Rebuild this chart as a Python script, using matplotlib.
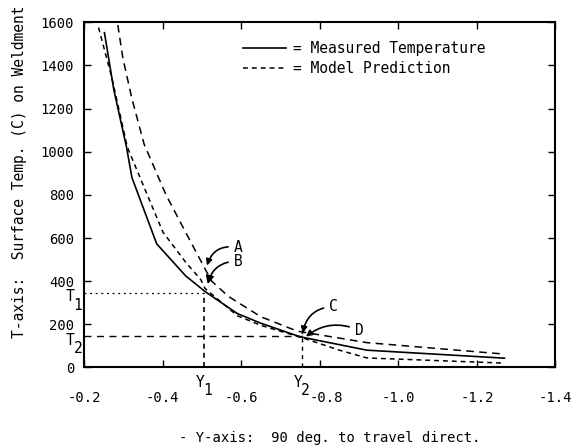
import numpy as np
import matplotlib
matplotlib.use('Agg')
import matplotlib.pyplot as plt
from matplotlib.transforms import blended_transform_factory, ScaledTranslation

plt.rcParams['font.family'] = 'DejaVu Sans Mono'
plt.rcParams['axes.unicode_minus'] = False

# Measured surface temperature along the line 90 deg. to the travel direction
y_meas = [-0.252, -0.276, -0.308, -0.322, -0.385, -0.459, -0.508, -0.59, -0.65, -0.75, -0.92, -1.27]
t_meas = [1552, 1286, 1023, 880, 573, 424, 352, 250, 205, 142, 80, 43]

# Model prediction (inner curve, fine dashes)
y_model_in = [-0.237, -0.271, -0.31, -0.353, -0.401, -0.46, -0.497, -0.508, -0.59, -0.65, -0.755, -0.85, -0.92, -1.269]
t_model_in = [1576, 1342, 1023, 835, 627, 485, 408, 366, 240, 195, 138, 80, 44, 20]

# Model prediction (outer curve, coarse dashes)
y_model_out = [-0.286, -0.299, -0.322, -0.353, -0.409, -0.462, -0.513, -0.525, -0.567, -0.65, -0.743, -0.92, -1.269]
t_model_out = [1588, 1433, 1246, 1035, 799, 615, 440, 400, 330, 235, 168, 115, 62]

x_ticks = [-0.2, -0.4, -0.6, -0.8, -1.0, -1.2, -1.4]
x_tick_labels = ['-0.2', '-0.4', '-0.6', '-0.8', '-1.0', '-1.2', '-1.4']
t_ticks = [0, 200, 400, 600, 800, 1000, 1200, 1400, 1600]

# reference positions Y1/Y2 and temperatures T1/T2
y1, y2 = -0.505, -0.755
t1, t2 = 347, 145


def curve_at(ys, ts, y):
    return np.interp(-y, -np.array(ys), np.array(ts))


fig = plt.figure(figsize=(5.81, 4.47), dpi=100)
ax = fig.add_axes([0.1446, 0.178, 0.8115, 0.772])

ax.plot(y_meas, t_meas, color='black', lw=1.2, label='= Measured Temperature')
ax.plot(y_model_in, t_model_in, color='black', lw=1.1, dashes=(3.2, 2.6),
        label='= Model Prediction')
ax.plot(y_model_out, t_model_out, color='black', lw=1.1, dashes=(5, 3.5))

# guide lines for T1/Y1 and T2/Y2
ax.plot([-0.2, y1], [t1, t1], color='black', lw=0.9, dashes=(1.5, 3))
ax.plot([y1, y1], [0, t1], color='black', lw=1.2, dashes=(3, 2.5))
ax.plot([-0.2, y2], [t2, t2], color='black', lw=1.0, dashes=(5, 4))
ax.plot([y2, y2], [0, 195], color='black', lw=1.0, dashes=(3, 3))

ax.set_xlim(-0.2, -1.4)
ax.set_ylim(0, 1600)
ax.set_xticks(x_ticks)
ax.set_xticklabels(x_tick_labels)
ax.set_yticks(t_ticks)
ax.tick_params(direction='in', length=5, width=1, top=True, right=True, labelsize=10)
ax.tick_params(axis='x', pad=17)
ax.tick_params(axis='y', pad=7)
for s in ax.spines.values():
    s.set_linewidth(1.5)

# -0.8 sits a little to the right to clear the Y2 mark
lbl = ax.get_xticklabels()[3]
lbl.set_transform(lbl.get_transform() + ScaledTranslation(5 / 72, 0, fig.dpi_scale_trans))

leg = ax.legend(loc='upper left', bbox_to_anchor=(0.338, 0.945), frameon=False,
                handlelength=2.9, handletextpad=0.5, labelspacing=0.35,
                borderpad=0, borderaxespad=0, fontsize=10.5)

# letter callouts with curved arrows
arrow = dict(arrowstyle='-|>', color='black', lw=1.2, mutation_scale=9,
             shrinkA=2, shrinkB=0)
tip_a = curve_at(y_model_out, t_model_out, y1)
tip_b = curve_at(y_meas, t_meas, y1)
tip_c = curve_at(y_model_out, t_model_out, y2)
tip_d = curve_at(y_meas, t_meas, y2)
ax.annotate('A', xy=(y1 - 0.008, tip_a + 5), xytext=(-0.592, 555), fontsize=10.5,
            ha='center', va='center', arrowprops=dict(arrow, connectionstyle='arc3,rad=0.45'))
ax.annotate('B', xy=(y1 - 0.01, tip_b + 30), xytext=(-0.592, 492), fontsize=10.5,
            ha='center', va='center',
            arrowprops=dict(arrow, mutation_scale=12, connectionstyle='arc3,rad=0.4'))
ax.annotate('C', xy=(y2 - 0.002, tip_c - 5), xytext=(-0.835, 282), fontsize=10.5,
            ha='center', va='center', arrowprops=dict(arrow, connectionstyle='arc3,rad=0.4'))
ax.annotate('D', xy=(y2 - 0.01, tip_d + 3), xytext=(-0.9, 172), fontsize=10.5,
            ha='center', va='center', arrowprops=dict(arrow, connectionstyle='arc3,rad=0.3'))

# subscripted labels on the axes
xfrac = blended_transform_factory(ax.transData, ax.transAxes)
yfrac = blended_transform_factory(ax.transAxes, ax.transData)
for yv, sub in [(y1, '1'), (y2, '2')]:
    ax.annotate('Y', xy=(yv, 0), xycoords=xfrac, xytext=(-2.5, -10.5), textcoords='offset points',
                ha='center', va='center', fontsize=10.5)
    ax.annotate(sub, xy=(yv, 0), xycoords=xfrac, xytext=(2.5, -16.5), textcoords='offset points',
                ha='center', va='center', fontsize=10.5)
for tv, sub in [(t1, '1'), (t2, '2')]:
    ax.annotate('T', xy=(0, tv), xycoords=yfrac, xytext=(-10, -3), textcoords='offset points',
                ha='center', va='center', fontsize=10.5)
    ax.annotate(sub, xy=(0, tv), xycoords=yfrac, xytext=(-4.5, -9), textcoords='offset points',
                ha='center', va='center', fontsize=10.5)

fig.text(0.034, 0.615, 'T-axis:  Surface Temp. (C) on Weldment', rotation=90,
         ha='center', va='center', fontsize=10.5)
fig.text(0.568, 0.02, '- Y-axis:  90 deg. to travel direct.', ha='center', va='center',
         fontsize=10)

fig.savefig('out.png', dpi=100)
